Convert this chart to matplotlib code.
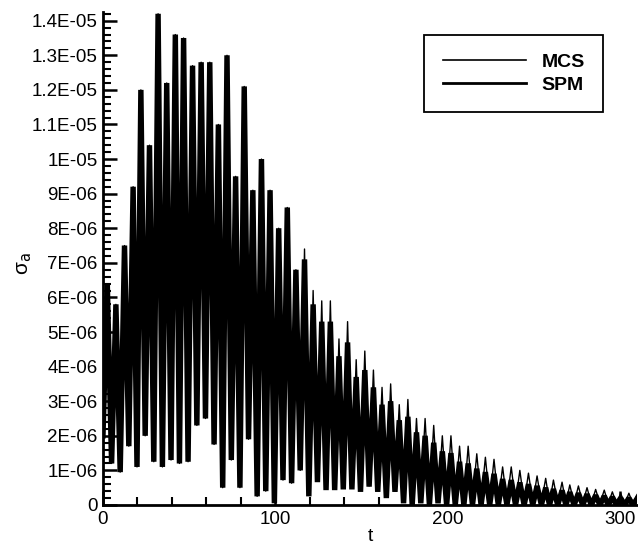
import numpy as np
import matplotlib
matplotlib.use("Agg")
import matplotlib.pyplot as plt
from matplotlib.ticker import MultipleLocator, FuncFormatter

plt.rcParams['font.family'] = ['Liberation Sans', 'DejaVu Sans']

# peak times of each oscillation cycle
peak_t = [2.5, 7.5, 12.5, 17.5, 22, 27, 32, 37, 42, 46.8,
          52, 57, 62, 67, 72, 77, 82, 87, 92, 97,
          102, 107, 112, 117, 122, 127, 132, 137, 142, 147,
          152, 157, 162, 167, 172, 177, 182, 187, 192, 197,
          202, 207, 212, 217, 222, 227, 232, 237, 242, 247,
          252, 257, 261.5, 266.5, 271, 276, 281, 286, 291, 295.7,
          300.5, 305.3, 310]

# peak values (units of 1E-06)
mcs_peak = [6.4, 5.8, 7.5, 9.2, 12.0, 10.4, 14.2, 12.2, 13.6, 13.5,
            12.7, 12.8, 12.8, 11.0, 13.0, 9.5, 12.1, 9.1, 10.0, 9.1,
            8.0, 8.6, 6.8, 7.4, 6.2, 5.9, 5.9, 4.8, 5.3, 4.2,
            4.45, 3.9, 3.4, 3.5, 2.9, 3.05, 2.5, 2.5, 2.3, 2.0,
            2.0, 1.7, 1.7, 1.48, 1.38, 1.32, 1.1, 1.1, 1.0, 0.92,
            0.84, 0.77, 0.72, 0.66, 0.58, 0.55, 0.5, 0.45, 0.43, 0.38,
            0.34, 0.34, 0.3]
spm_peak = [6.4, 5.8, 7.5, 9.2, 12.0, 10.4, 14.2, 12.2, 13.6, 13.5,
            12.7, 12.8, 12.8, 11.0, 13.0, 9.5, 12.1, 9.1, 10.0, 9.1,
            8.0, 8.6, 6.8, 7.1, 5.8, 5.3, 5.3, 4.3, 4.7, 3.7,
            3.9, 3.4, 2.9, 3.0, 2.45, 2.55, 2.1, 2.0, 1.8, 1.55,
            1.5, 1.25, 1.2, 1.05, 0.95, 0.9, 0.75, 0.72, 0.65, 0.6,
            0.55, 0.5, 0.46, 0.42, 0.37, 0.34, 0.31, 0.28, 0.26, 0.23,
            0.2, 0.2, 0.18]

# trough values between consecutive peaks (units of 1E-06)
mcs_trough = [1.2, 0.95, 1.7, 1.1, 2.0, 1.25, 1.1, 1.3, 1.2, 1.25,
              2.3, 2.5, 1.75, 0.5, 1.3, 0.5, 1.9, 0.25, 0.4, 0.1,
              0.72, 0.63, 1.0, 0.3, 0.7, 0.5, 0.5, 0.5, 0.5, 0.45,
              0.55, 0.45, 0.3, 0.4, 0.15, 0.15, 0.2, 0.15, 0.15, 0.12,
              0.12, 0.1, 0.1, 0.1, 0.08, 0.08, 0.08, 0.07, 0.07, 0.06,
              0.06, 0.05, 0.05, 0.05, 0.04, 0.04, 0.04, 0.04, 0.03, 0.03,
              0.03, 0.03]
spm_trough = [1.2, 0.95, 1.7, 1.1, 2.0, 1.25, 1.1, 1.3, 1.2, 1.25,
              2.3, 2.5, 1.75, 0.5, 1.3, 0.5, 1.9, 0.25, 0.4, 0.05,
              0.72, 0.63, 1.0, 0.25, 0.66, 0.43, 0.43, 0.45, 0.45, 0.38,
              0.53, 0.38, 0.2, 0.38, 0.05, 0.0, 0.05, 0.0, 0.05, 0.0,
              0.0, 0.0, 0.0, 0.0, 0.0, 0.0, 0.0, 0.0, 0.0, 0.0,
              0.0, 0.0, 0.0, 0.0, 0.0, 0.0, 0.0, 0.0, 0.0, 0.0,
              0.0, 0.0]

t_start = 0.0
v_start = 2.0


def build(peaks, troughs):
    pt = np.array(peak_t)
    mid = (pt[:-1] + pt[1:]) / 2
    t = [t_start]
    v = [v_start]
    for i in range(len(pt)):
        t.append(pt[i]); v.append(peaks[i])
        if i < len(mid):
            t.append(mid[i]); v.append(troughs[i])
    return np.array(t), np.array(v) * 1e-6


t_mcs, y_mcs = build(mcs_peak, mcs_trough)
t_spm, y_spm = build(spm_peak, spm_trough)

fig = plt.figure(figsize=(6.38, 5.48), dpi=100)
ax = fig.add_axes([0.1614, 0.0785, 0.837, 0.8995])

ax.plot(t_spm, y_spm, color='black', lw=3.9, label='SPM', zorder=2,
        solid_joinstyle='bevel')
ax.plot(t_mcs, y_mcs, color='black', lw=1.0, label='MCS', zorder=3)

ax.set_xlim(0, 310)
ax.set_ylim(0, 1.425e-5)

ax.xaxis.set_major_locator(MultipleLocator(100))
ax.xaxis.set_minor_locator(MultipleLocator(20))
ax.yaxis.set_major_locator(MultipleLocator(1e-6))
ax.yaxis.set_minor_locator(MultipleLocator(2e-7))


def sci(v, pos):
    if abs(v) < 1e-12:
        return '0'
    s = format(v, '.1E')
    return s.replace('.0E', 'E')


ax.yaxis.set_major_formatter(FuncFormatter(sci))

for side in ['top', 'right']:
    ax.spines[side].set_visible(False)
for side in ['left', 'bottom']:
    ax.spines[side].set_linewidth(2.0)

ax.tick_params(which='major', direction='in', length=10, width=1.8,
               labelsize=13.5, pad=4)
ax.tick_params(which='minor', direction='in', length=6, width=1.5)

ax.set_xlabel('t', fontsize=14, labelpad=0)
ax.set_ylabel('σ$_{\\mathrm{a}}$', fontsize=15)
ax.yaxis.set_label_coords(-0.13, 0.49)

handles, labels = ax.get_legend_handles_labels()
leg = ax.legend(handles[::-1], labels[::-1], loc='upper right',
                bbox_to_anchor=(0.9451, 0.9361), bbox_transform=fig.transFigure,
                borderaxespad=0, fancybox=False, framealpha=1, edgecolor='black',
                handlelength=4.3, handletextpad=0.77, borderpad=0.95,
                labelspacing=0.25, prop={'weight': 'bold', 'size': 14})
leg.get_frame().set_linewidth(1.3)
leg.get_lines()[0].set_linewidth(1.2)
leg.get_lines()[1].set_linewidth(2.0)

fig.savefig('out.png', dpi=100)
